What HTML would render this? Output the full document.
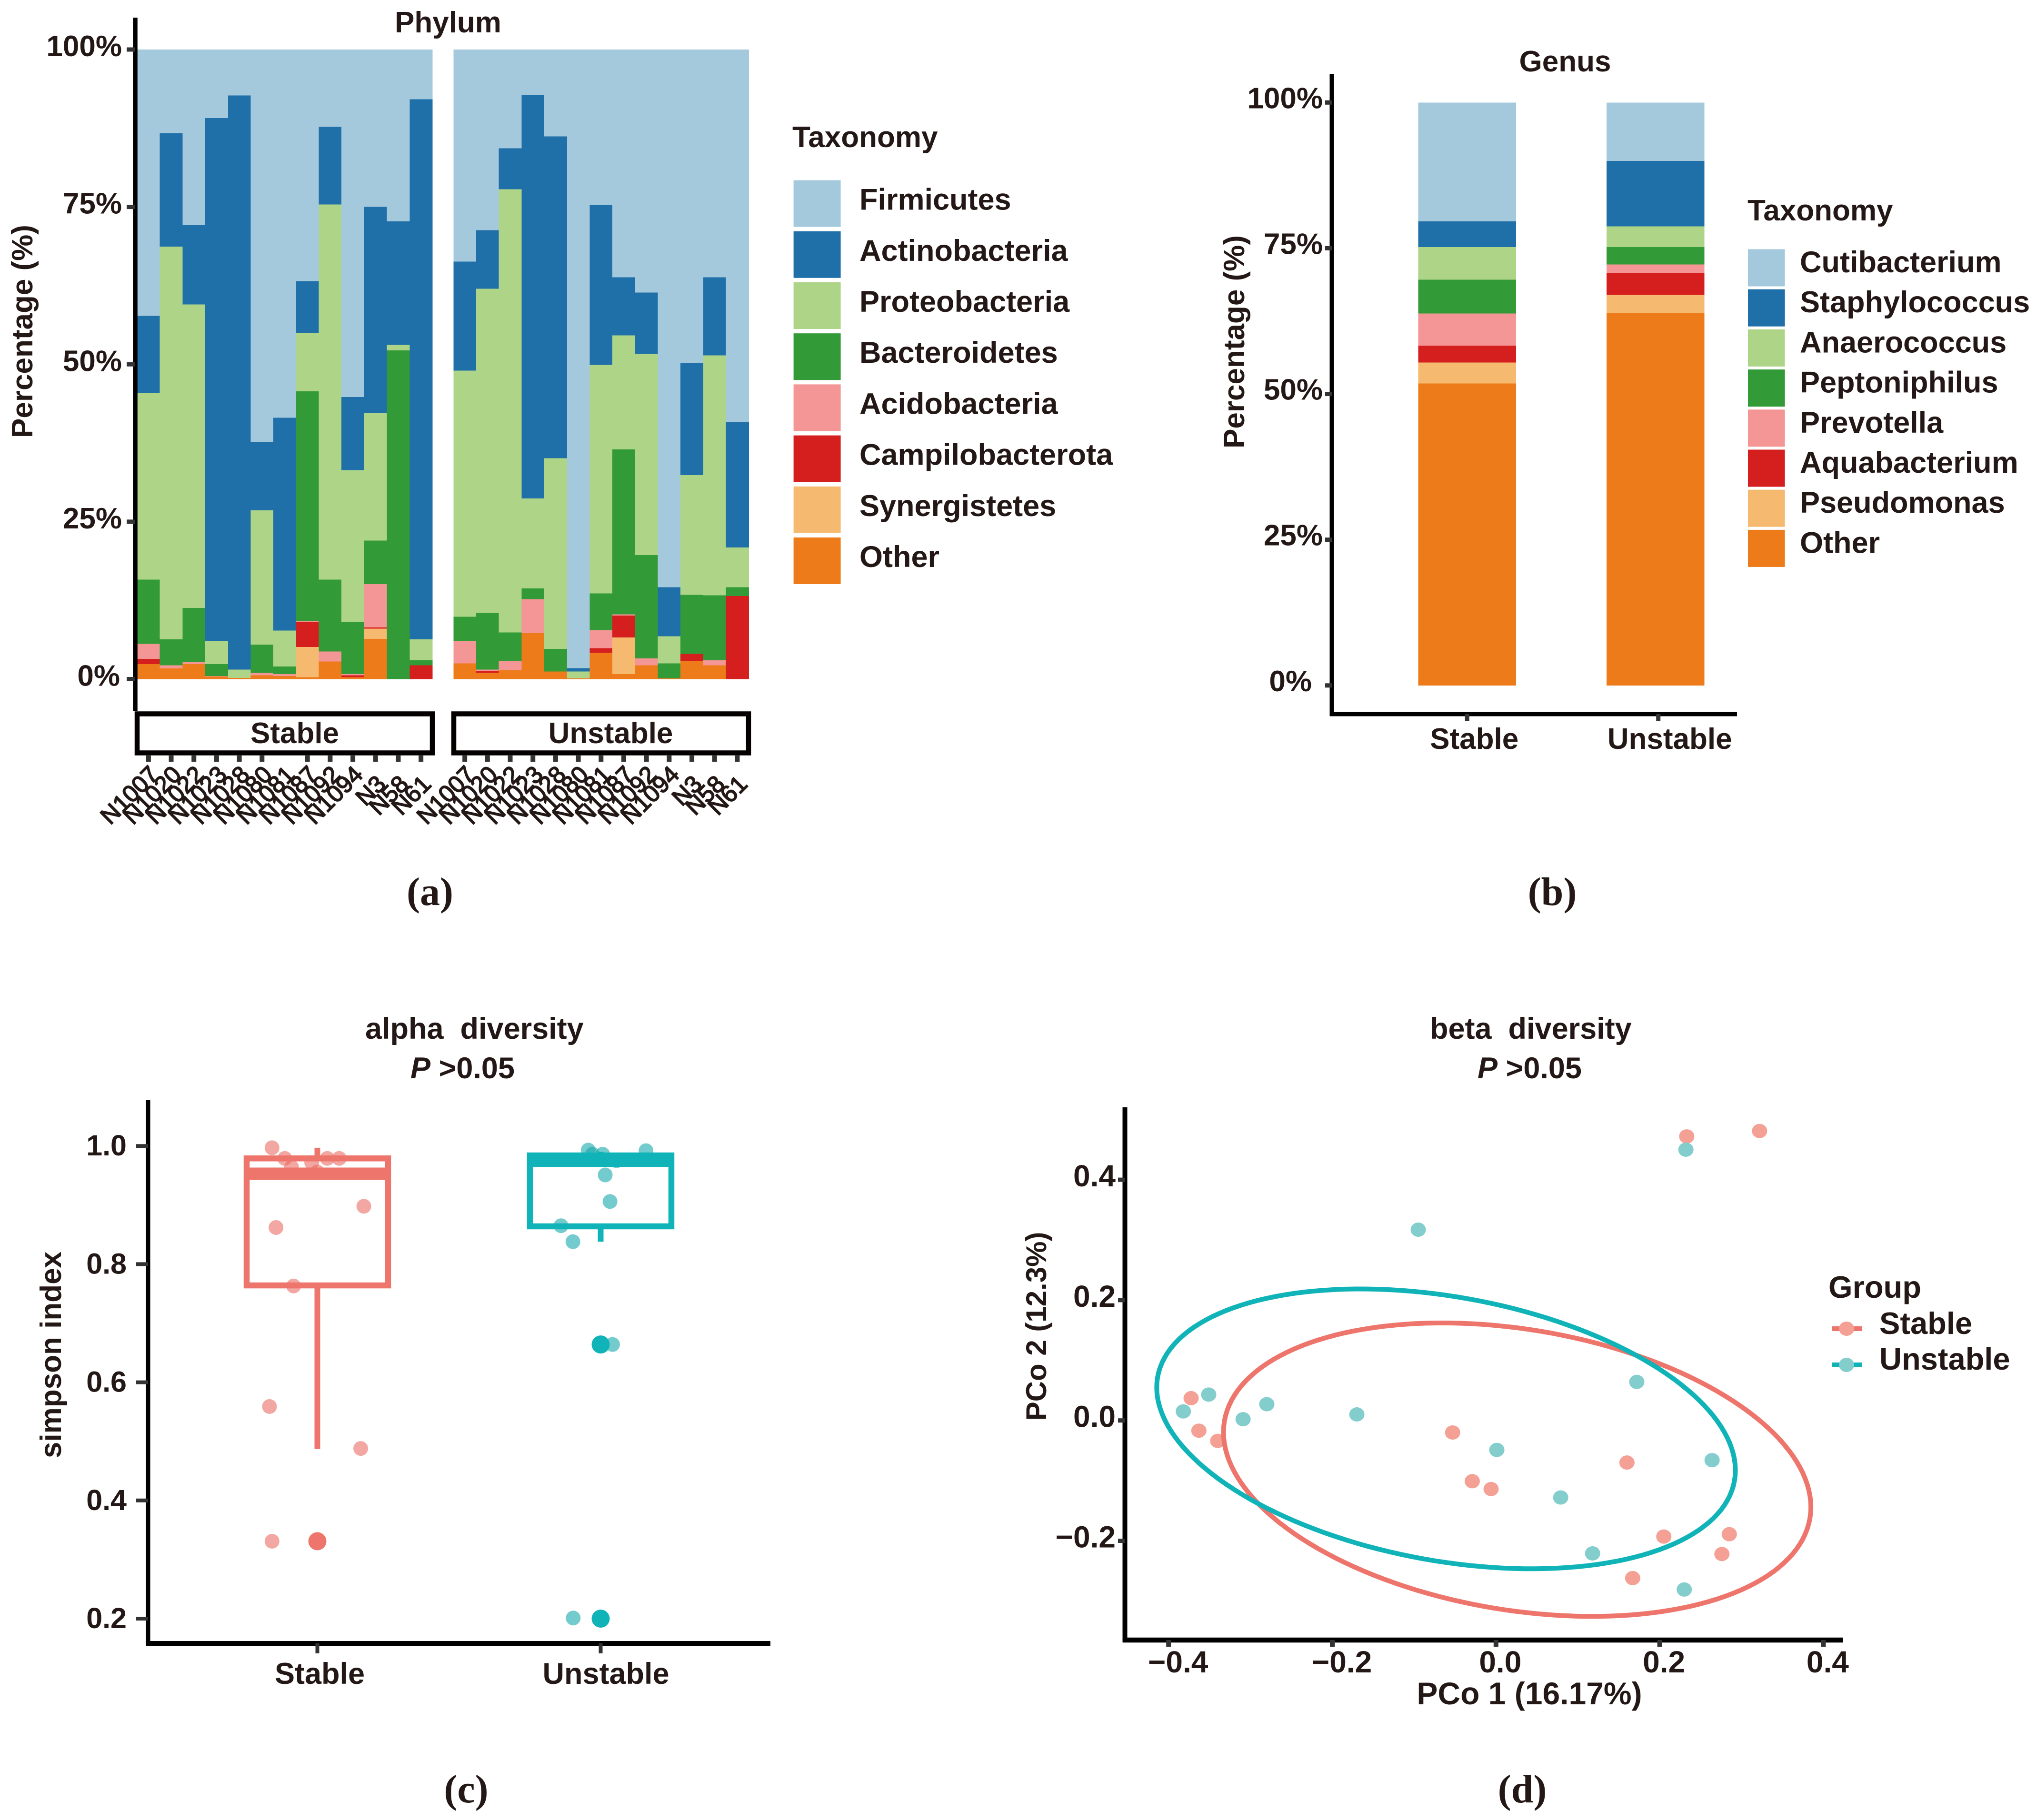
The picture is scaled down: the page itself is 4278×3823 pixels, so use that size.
<!DOCTYPE html>
<html lang="en">
<head>
<meta charset="utf-8">
<title>Microbiome composition and diversity</title>
<style>
html,body{margin:0;padding:0;background:#fff}
svg{display:block}
text{font-family:"Liberation Sans",sans-serif;font-weight:bold;fill:#231815}
.cap{font-family:"Liberation Serif",serif;font-size:84px}
</style>
</head>
<body>
<svg id="fig" xmlns="http://www.w3.org/2000/svg" width="4278" height="3823" viewBox="0 0 4278 3823">
<rect width="4278" height="3823" fill="#fff"/>

<!-- Panel a -->
<g id="panelA">
<g id="aBars" shape-rendering="crispEdges"></g>
<line x1="284" y1="37" x2="284" y2="1494" stroke="#000" stroke-width="9.500"/>
<text x="829" y="68" font-size="62">Phylum</text>
<text transform="translate(68,696) rotate(-90)" text-anchor="middle" font-size="62">Percentage (%)</text>
<rect x="288" y="1499.500" width="620" height="82" fill="#fff" stroke="#040000" stroke-width="10.500"/>
<rect x="953" y="1499.500" width="619" height="82" fill="#fff" stroke="#040000" stroke-width="10.500"/>
<text x="619" y="1561" text-anchor="middle" font-size="62">Stable</text>
<text x="1282.500" y="1561" text-anchor="middle" font-size="62">Unstable</text>
<text x="1664" y="309" font-size="62">Taxonomy</text>
<g id="aLegend"></g>
</g>
<text class="cap" x="903" y="1901" text-anchor="middle">(a)</text>

<!-- Panel b -->
<g id="panelB">
<g id="bBars" shape-rendering="crispEdges"></g>
<line x1="2797" y1="155" x2="2797" y2="1504" stroke="#000" stroke-width="9"/>
<line x1="2793" y1="1500" x2="3648" y2="1500" stroke="#000" stroke-width="9"/>
<text x="3287" y="150" text-anchor="middle" font-size="62">Genus</text>
<text transform="translate(2613,718) rotate(-90)" text-anchor="middle" font-size="62">Percentage (%)</text>
<text x="3670" y="463" font-size="62">Taxonomy</text>
<g id="bLegend"></g>
</g>
<text class="cap" x="3260" y="1901" text-anchor="middle">(b)</text>

<!-- Panel c -->
<g id="panelC">
<text x="767" y="2182" font-size="63" style="white-space:pre">alpha  diversity</text>
<text x="862" y="2265" font-size="63"><tspan font-style="italic">P</tspan> &gt;0.05</text>
<g id="cMarks"></g>
<line x1="311" y1="2311" x2="311" y2="3457" stroke="#000" stroke-width="9"/>
<line x1="307" y1="3452" x2="1618" y2="3452" stroke="#000" stroke-width="10"/>
<text transform="translate(128,2846) rotate(-90)" text-anchor="middle" font-size="62">simpson index</text>
</g>
<text class="cap" x="979" y="3786" text-anchor="middle">(c)</text>

<!-- Panel d -->
<g id="panelD">
<text x="3003" y="2182" font-size="63" style="white-space:pre">beta  diversity</text>
<text x="3103" y="2265" font-size="63"><tspan font-style="italic">P</tspan> &gt;0.05</text>
<g id="dMarks"></g>
<line x1="2362.500" y1="2326" x2="2362.500" y2="3450" stroke="#000" stroke-width="10"/>
<line x1="2358" y1="3445" x2="3870" y2="3445" stroke="#000" stroke-width="10.500"/>
<text x="3212" y="3580" text-anchor="middle" font-size="66">PCo 1 (16.17%)</text>
<text transform="translate(2197,2786) rotate(-90)" text-anchor="middle" font-size="60">PCo 2 (12.3%)</text>
<text x="3840" y="2726" font-size="65">Group</text>
<line x1="3847" y1="2791" x2="3910" y2="2791" stroke="#EE756C" stroke-width="10"/>
<ellipse cx="3878" cy="2791" rx="16" ry="15" fill="#F4A094"/>
<text x="3947" y="2802" font-size="65">Stable</text>
<line x1="3847" y1="2867" x2="3910" y2="2867" stroke="#10B4B8" stroke-width="10"/>
<ellipse cx="3878" cy="2867" rx="16" ry="15" fill="#83CDCD"/>
<text x="3947" y="2877" font-size="65">Unstable</text>
</g>
<text class="cap" x="3197" y="3786" text-anchor="middle">(d)</text>
</svg>

<script>
// ---------- Panel a data (percent per sample) ----------
const phylumSamples = ['N1007','N1020','N1022','N1023','N1028','N1080','N1081','N1087','N1092','N1094','N3','N58','N61'];
const phylumTaxa = ['Firmicutes','Actinobacteria','Proteobacteria','Bacteroidetes','Acidobacteria','Campilobacterota','Synergistetes','Other'];
const paletteColors = ['#A4C9DD','#1F70A9','#AED488','#339A38','#F39695','#D51F1F','#F5BA6F','#EE7B1A'];
const phylumTicks = [0,25,50,75,100];

const stableOther         = [2.4,1.7,2.4,0.4,0.2,0.6,0.5,0.3,2.8,0.3,6.4,0,0];
const stableSynergistetes = [0,0,0,0,0,0,0,4.8,0,0,1.6,0,0];
const stableCampilo       = [0.8,0,0,0,0,0,0,4.0,0,0.3,0.2,0,2.2];
const stableAcido         = [2.4,0.5,0.3,0.1,0,0.4,0.3,0.1,1.6,0.2,6.9,0,0];
const stableBactero       = [10.2,4.1,8.6,1.9,0,4.5,1.2,36.5,11.4,8.3,6.9,52.2,0.8];
const stableProteo        = [29.6,62.4,48.2,3.6,1.3,21.3,5.7,9.3,59.6,24.1,20.3,0.9,3.3];
const stableActino        = [12.3,18,12.6,83.1,91.2,10.8,33.8,8.2,12.3,11.6,32.7,19.6,85.8];
const stableFirmi         = [42.3,13.3,27.9,10.9,7.3,62.4,58.5,36.8,12.3,55.2,25,27.3,7.9];

const unstableOther         = [2.5,1,1.4,7.3,1.2,0.1,4.2,0.8,2.2,0.1,2.9,2.2,0];
const unstableSynergistetes = [0,0,0,0,0,0,0,5.8,0,0,0,0,0];
const unstableCampilo       = [0,0.3,0,0,0,0,0.7,3.5,0,0,1.1,0,13.2];
const unstableAcido         = [3.5,0.2,1.5,5.4,0,0,2.9,0.2,1.1,0,0,0.8,0];
const unstableBactero       = [3.9,9,4.5,1.7,3.6,0,5.8,26.2,16.4,2.4,9.4,10.3,1.4];
const unstableProteo        = [39.1,51.5,70.4,14.3,30.3,1.1,36.3,18.1,32,4.3,19,38.1,6.3];
const unstableActino        = [17.3,9.3,6.5,64.1,51.1,0.55,25.4,9.2,9.7,7.8,17.8,12.4,19.9];
const unstableFirmi         = [33.7,28.7,15.7,7.2,13.8,98.25,24.7,36.2,38.6,85.4,49.8,36.2,59.2];

// ---------- Panel b data ----------
const genusGroups = ['Stable','Unstable'];
const genusTaxa = ['Cutibacterium','Staphylococcus','Anaerococcus','Peptoniphilus','Prevotella','Aquabacterium','Pseudomonas','Other'];
const genusTicks = [0,25,50,75,100];
const genusOther   = [51.8,63.9];
const genusPseudo  = [3.6,3.1];
const genusAqua    = [2.9,3.75];
const genusPrevo   = [5.5,1.45];
const genusPepto   = [5.8,3.0];
const genusAnaero  = [5.6,3.55];
const genusStaph   = [4.4,11.25];
const genusCuti    = [20.4,10.0];

// ---------- Panel c data ----------
const alphaGroups = ['Stable','Unstable'];
const alphaTicks = [0.2,0.4,0.6,0.8,1.0];
const alphaQ1 = [0.764,0.864];
const alphaMedian = [0.953,0.975];
const alphaQ3 = [0.979,0.984];
const alphaWhiskerLow = [0.487,0.838];
const alphaWhiskerHigh = [0.997,0.99];
const alphaStableOutliers = [0.331];
const alphaUnstableOutliers = [0.664,0.2];
const alphaStableJitter = [-0.16,-0.115,-0.091,-0.02,0,0.035,0.077,0.164,-0.146,-0.084,-0.169,0.153,-0.16];
const alphaStableValues = [0.997,0.979,0.964,0.972,0.956,0.979,0.979,0.898,0.862,0.763,0.559,0.488,0.331];
const alphaUnstableJitter = [-0.044,-0.029,0.007,0.056,0.16,0.016,0.033,-0.14,-0.098,0.042,-0.097];
const alphaUnstableValues = [0.993,0.986,0.986,0.975,0.992,0.951,0.906,0.865,0.838,0.664,0.201];

// ---------- Panel d data ----------
const betaXTicks = [-0.4,-0.2,0,0.2,0.4];
const betaYTicks = [-0.2,0,0.2,0.4];
const betaStablePC1 = [0.233,0.322,-0.3725,-0.363,-0.34,-0.053,-0.029,-0.006,0.16,0.205,0.285,0.276,0.167];
const betaStablePC2 = [0.472,0.481,0.037,-0.017,-0.034,-0.02,-0.101,-0.114,-0.07,-0.193,-0.189,-0.222,-0.262];
const betaUnstablePC1 = [0.232,-0.095,-0.351,-0.382,-0.309,-0.28,-0.17,0.172,0.001,0.264,0.079,0.118,0.23];
const betaUnstablePC2 = [0.45,0.317,0.043,0.015,0.002,0.027,0.01,0.064,-0.049,-0.066,-0.128,-0.221,-0.281];
const ellipseCenterPC1 = [0.0259,-0.061];
const ellipseCenterPC2 = [-0.0818,-0.014];
const ellipseSpreadPC1 = [0.3588,0.3535];
const ellipseSpreadPC2 = [0.2438,0.2325];
const ellipseCorrelation = [-0.255,-0.296];

// ---------- helpers ----------
const NS = 'http://www.w3.org/2000/svg';
function mk(parent, tag, attrs, txt){
  const n = document.createElementNS(NS, tag);
  for (const k in attrs) n.setAttribute(k, attrs[k]);
  if (txt !== undefined) n.textContent = txt;
  parent.appendChild(n);
  return n;
}
const $ = id => document.getElementById(id);
const TICK = '#333333';

// ---------- Panel a ----------
const stableStack = [stableFirmi,stableActino,stableProteo,stableBactero,stableAcido,stableCampilo,stableSynergistetes,stableOther];
const unstableStack = [unstableFirmi,unstableActino,unstableProteo,unstableBactero,unstableAcido,unstableCampilo,unstableSynergistetes,unstableOther];
const aBandWidth = 620 / phylumSamples.length;
const aFacetLeft = [288, 952.3];
const xA = (facet, i) => aFacetLeft[facet] + i * aBandWidth;
const yA = p => 1426.5 - p * 13.225;
const aG = $('aBars');
const panelA = $('panelA');
[stableStack, unstableStack].forEach((stack, facet) => {
  phylumSamples.forEach((name, i) => {
    let cum = 0;
    for (let t = stack.length - 1; t >= 0; t--) {
      const v = stack[t][i];
      if (v <= 0) continue;
      const seg = mk(aG, 'rect', {x: xA(facet,i), y: yA(cum + v), width: aBandWidth + 0.5, height: yA(cum) - yA(cum + v), fill: paletteColors[t]});
      
      
      cum += v;
    }
    const cx = xA(facet,i) + aBandWidth / 2;
    if (!(facet === 0 && i === 6)) {
      const tk = mk(panelA, 'line', {x1: cx, y1: 1586, x2: cx, y2: 1600, stroke: TICK, 'stroke-width': 10});
      
      
    }
    const ey = name.length > 3 ? 1630 : 1650;
    const lb = mk(panelA, 'text', {transform: `translate(${cx + 24},${ey}) rotate(-45)`, 'text-anchor': 'end', 'font-size': 50, style: 'font-weight:normal;stroke:#231815;stroke-width:2px'}, name);
    
    
  });
});
phylumTicks.forEach(p => {
  const tk = mk(panelA, 'line', {x1: 266, y1: yA(p), x2: 284, y2: yA(p), stroke: TICK, 'stroke-width': 9});
  
  
  const lb = mk(panelA, 'text', {x: p === 0 ? 252 : 256, y: yA(p) + 14, 'text-anchor': 'end', 'font-size': 62}, p + '%');
  
  
});
phylumTaxa.forEach((name, i) => {
  const top = 378.6 + i * 107.2;
  const sw = mk($('aLegend'), 'rect', {x: 1666.6, y: top, width: 99, height: 98, fill: paletteColors[i]});
  
  
  const lb = mk($('aLegend'), 'text', {x: 1805, y: top + 62, 'font-size': 63}, name);
  
  
});

// ---------- Panel b ----------
const genusStack = [genusCuti,genusStaph,genusAnaero,genusPepto,genusPrevo,genusAqua,genusPseudo,genusOther];
const yB = p => 1439.8 - p * 12.245;
const xB = i => 3081.2 + i * 395.5;
const bWidth = 205.5;
const panelB = $('panelB');
genusGroups.forEach((g, i) => {
  let cum = 0;
  for (let t = genusStack.length - 1; t >= 0; t--) {
    const v = genusStack[t][i];
    const seg = mk($('bBars'), 'rect', {x: xB(i) - bWidth / 2, y: yB(cum + v), width: bWidth, height: yB(cum) - yB(cum + v), fill: paletteColors[t]});
    
    
    cum += v;
  }
  const tk = mk(panelB, 'line', {x1: xB(i) + i * 6, y1: 1500, x2: xB(i) + i * 6, y2: 1515, stroke: TICK, 'stroke-width': 9});
  
  
  const lb = mk(panelB, 'text', {x: xB(i) + 15 + i * 15, y: 1573, 'text-anchor': 'middle', 'font-size': 62}, g);
  
  
});
genusTicks.forEach(p => {
  const tk = mk(panelB, 'line', {x1: 2783, y1: yB(p), x2: 2797, y2: yB(p), stroke: TICK, 'stroke-width': 9});
  
  
  const lb = mk(panelB, 'text', {x: p === 0 ? 2755 : 2778, y: yB(p) + 12, 'text-anchor': 'end', 'font-size': 62}, p + '%');
  
  
});
genusTaxa.forEach((name, i) => {
  const top = 523.5 + i * 84.2;
  const sw = mk($('bLegend'), 'rect', {x: 3671, y: top, width: 77.5, height: 78, fill: paletteColors[i]});
  
  
  const lb = mk($('bLegend'), 'text', {x: 3780, y: 572 + i * 84.2, 'font-size': 63}, name);
  
  
});

// ---------- Panel c ----------
const yC = v => 3400 - (v - 0.2) * 1241;
const xC = c => 666.5 + c * 595;
const salmon = '#EE756C', teal = '#10B4B8';
const groupStroke = [salmon, teal];
const cM = $('cMarks');
const panelC = $('panelC');
const alphaPointSets = [[alphaStableJitter, alphaStableValues, '#E9685F', 0], [alphaUnstableJitter, alphaUnstableValues, '#10A5A8', 1]];
alphaPointSets.forEach(set => {
  set[1].forEach((v, i) => {
    const dot = mk(cM, 'circle', {cx: xC(set[3] + set[0][i]), cy: yC(v), r: 15.5, fill: set[2], 'fill-opacity': 0.58});
    
    
  });
});
const boxHalf = 148.5;
alphaGroups.forEach((g, i) => {
  const c = xC(i), col = groupStroke[i];
  const wh = mk(cM, 'line', {x1: c, y1: yC(alphaWhiskerLow[i]), x2: c, y2: yC(alphaQ1[i]), stroke: col, 'stroke-width': 12});
  
  
  const wh2 = mk(cM, 'line', {x1: c, y1: yC(alphaWhiskerHigh[i]), x2: c, y2: yC(alphaQ3[i]), stroke: col, 'stroke-width': 12});
  
  
  const box = mk(cM, 'rect', {x: c - boxHalf, y: yC(alphaQ3[i]), width: boxHalf * 2, height: yC(alphaQ1[i]) - yC(alphaQ3[i]), fill: 'none', stroke: col, 'stroke-width': 12.5});
  
  
  const med = mk(cM, 'line', {x1: c - boxHalf, y1: yC(alphaMedian[i]), x2: c + boxHalf, y2: yC(alphaMedian[i]), stroke: col, 'stroke-width': 26});
  
  
  const tk = mk(panelC, 'line', {x1: xC(i), y1: 3452, x2: xC(i), y2: 3473, stroke: TICK, 'stroke-width': 8});
  
  
  const lb = mk(panelC, 'text', {x: xC(i) + 5 + i * 6, y: 3537, 'text-anchor': 'middle', 'font-size': 63}, g);
  
  
});
[alphaStableOutliers, alphaUnstableOutliers].forEach((arr, i) => {
  arr.forEach(v => {
    const dot = mk(cM, 'circle', {cx: xC(i), cy: yC(v), r: 19, fill: groupStroke[i]});
    
    
  });
});
alphaTicks.forEach(v => {
  const tk = mk(panelC, 'line', {x1: 286, y1: yC(v), x2: 311, y2: yC(v), stroke: TICK, 'stroke-width': 8});
  
  
  const lb = mk(panelC, 'text', {x: 266, y: yC(v) + 20, 'text-anchor': 'end', 'font-size': 61}, v.toFixed(1));
  
  
});

// ---------- Panel d ----------
const xD = v => 3141.8 + v * 1719;
const yD = v => 2983.7 - v * 1264;
const dM = $('dMarks');
const panelD = $('panelD');
const betaPointSets = [[betaStablePC1, betaStablePC2, '#F4A094'], [betaUnstablePC1, betaUnstablePC2, '#83CDCD']];
betaPointSets.forEach(set => {
  set[0].forEach((x, i) => {
    const dot = mk(dM, 'ellipse', {cx: xD(x), cy: yD(set[1][i]), rx: 16, ry: 15, fill: set[2]});
    
    
  });
});
ellipseCenterPC1.forEach((cx, i) => {
  const rho = ellipseCorrelation[i];
  let d = '';
  for (let k = 0; k <= 160; k++) {
    const t = k / 160 * 2 * Math.PI;
    const px = cx + ellipseSpreadPC1[i] * Math.cos(t);
    const py = ellipseCenterPC2[i] + ellipseSpreadPC2[i] * (rho * Math.cos(t) + Math.sqrt(1 - rho * rho) * Math.sin(t));
    d += (k ? 'L' : 'M') + xD(px).toFixed(1) + ' ' + yD(py).toFixed(1);
  }
  const ring = mk(dM, 'path', {d: d + 'Z', fill: 'none', stroke: groupStroke[i], 'stroke-width': 10});
  
  
});
betaXTicks.forEach(v => {
  const tk = mk(panelD, 'line', {x1: xD(v), y1: 3445, x2: xD(v), y2: 3459, stroke: TICK, 'stroke-width': 10});
  
  
  const txt = (v < 0 ? '\u2212' : '') + Math.abs(v).toFixed(1);
  const lb = mk(panelD, 'text', {x: xD(v) + (v < 0 ? 20 : 9), y: 3513, 'text-anchor': 'middle', 'font-size': 64}, txt);
  
  
});
betaYTicks.forEach(v => {
  const tk = mk(panelD, 'line', {x1: 2348, y1: yD(v), x2: 2362, y2: yD(v), stroke: TICK, 'stroke-width': 9});
  
  
  const txt = (v < 0 ? '\u2212' : '') + Math.abs(v).toFixed(1);
  const lb = mk(panelD, 'text', {x: 2343, y: yD(v) + 14, 'text-anchor': 'end', 'font-size': 64}, txt);
  
  
});
</script>
</body>
</html>
